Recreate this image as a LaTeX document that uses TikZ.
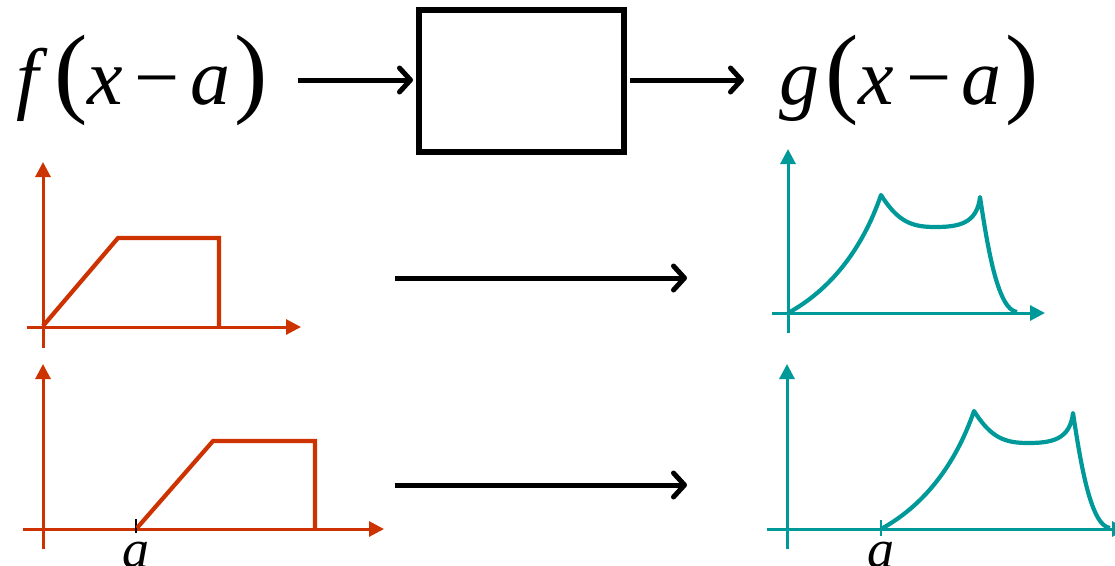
\documentclass[tikz,border=0pt]{standalone}
\usepackage{fontspec}
\setmainfont{Liberation Serif}
\usetikzlibrary{arrows.meta}
\definecolor{fred}{RGB}{204,51,0}
\definecolor{gteal}{RGB}{0,153,153}
\newcommand{\bigpar}[1]{{\fontsize{100}{100}\selectfont #1}}
\tikzset{
  eqlbl/.style={inner sep=0pt, anchor=base, font=\fontsize{80}{80}\selectfont},
  albl/.style={inner sep=0pt, anchor=base, font=\fontsize{54}{54}\selectfont\itshape},
  bigarrow/.style={line width=5pt, -{Straight Barb[length=11pt,width=24pt,round]}},
  sysbox/.style={draw, line width=6pt, minimum width=205pt, minimum height=142pt, inner sep=0pt},
  raxis/.style={fred, line width=3pt, -{Triangle[length=15pt,width=15pt]}},
  taxis/.style={gteal, line width=3pt, -{Triangle[length=15pt,width=15pt]}},
  rcurve/.style={fred, line width=4.2pt, line join=miter},
  tcurve/.style={gteal, line width=4.2pt, line join=round},
}
\begin{document}
\begin{tikzpicture}[x=1pt,y=-1pt]
\useasboundingbox (0,0) rectangle (1115,565);
% top row
\node[eqlbl] (fin) at (142,104) {\textit{f}\hspace{6pt}\bigpar{(}\textit{x}\hspace{12pt}−\hspace{10pt}\textit{a}\hspace{4pt}\bigpar{)}};
\node[sysbox] (sys) at (521.5,81) {};
\node[eqlbl] (gout) at (909,104) {\textit{g}\hspace{6pt}\bigpar{(}\textit{x}\hspace{12pt}−\hspace{10pt}\textit{a}\hspace{4pt}\bigpar{)}};
\coordinate (a1s) at (298,80);
\coordinate (a2e) at (744,80);
\draw[bigarrow] (a1s) -- ([xshift=-3pt]sys.west |- a1s);
\draw[bigarrow] ([xshift=3pt]sys.east |- a2e) -- (a2e);
% middle arrows
\coordinate (m1s) at (395,278);
\coordinate (m1e) at (687,278);
\coordinate (m2s) at (395,485);
\coordinate (m2e) at (687,485);
\draw[bigarrow] (m1s) -- (m1e);
\draw[bigarrow] (m2s) -- (m2e);
% red graph 1
\draw[raxis] (43,348) -- (43,162);
\draw[raxis] (27,327) -- (301,327);
\draw[rcurve] (43,326) -- (118,238) -- (219,238) -- (219,326);
% red graph 2
\draw[raxis] (43,549) -- (43,364);
\draw[raxis] (23,529) -- (384,529);
\draw[line width=1.8pt] (136,519) -- (136,533);
\draw[rcurve] (137,528) -- (213,441) -- (315,441) -- (315,529);
\node[albl] (la1) at (136,567) {a};
% teal graph 1
\draw[taxis] (788,333) -- (788,149);
\draw[taxis] (772,313) -- (1045,313);
\draw[tcurve] (788,313) .. controls (830,290) and (862,250) .. (881,195)
  .. controls (898,222) and (912,227) .. (935,227)
  .. controls (958,227) and (977,224) .. (980,197)
  .. controls (988,250) and (998,310) .. (1017,312);
% teal graph 2
\draw[taxis] (787,549) -- (787,364);
\draw[taxis] (767,529) -- (1127,529);
\draw[gteal, line width=2pt] (881,520) -- (881,536);
\draw[tcurve] (881,529) .. controls (923,506) and (955,466) .. (974,411)
  .. controls (991,438) and (1005,443) .. (1028,443)
  .. controls (1051,443) and (1070,440) .. (1073,413)
  .. controls (1081,466) and (1091,526) .. (1110,528);
\node[albl] (la2) at (881,567) {a};
\end{tikzpicture}
\end{document}
